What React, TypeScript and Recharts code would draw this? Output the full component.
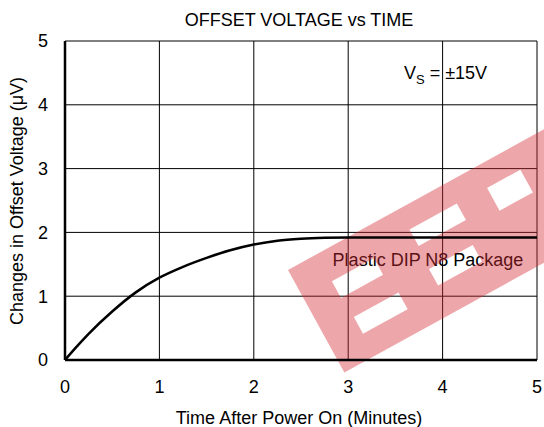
import React from "react";
import {
  LineChart,
  Line,
  XAxis,
  YAxis,
  CartesianGrid,
  Customized,
} from "recharts";

const timeMinutes = [0, 0.1, 0.25, 0.5, 0.75, 1.0, 1.25, 1.5, 1.75, 2.0, 2.25, 2.5, 2.75, 3.0, 3.5, 4.0, 4.5, 5.0];
const offsetChange = [0, 0.17, 0.41, 0.76, 1.06, 1.29, 1.46, 1.6, 1.72, 1.81, 1.87, 1.9, 1.915, 1.92, 1.92, 1.92, 1.92, 1.92];
const xTicks = [0, 1, 2, 3, 4, 5];
const yTicks = [0, 1, 2, 3, 4, 5];

const title = "OFFSET VOLTAGE vs TIME";
const xLabel = "Time After Power On (Minutes)";
const yLabel = "Changes in Offset Voltage (\u03bcV)";
const seriesLabel = "Plastic DIP N8 Package";

const data = timeMinutes.map((t, i) => ({ t, v: offsetChange[i] }));

const FONT = "'Liberation Sans', Arial, Helvetica, sans-serif";

const Annotations = () => (
  <g fontFamily={FONT} fill="#000">
    <text x={299} y={26} fontSize={18} textAnchor="middle">{title}</text>
    <text x={299} y={424} fontSize={18} textAnchor="middle">{xLabel}</text>
    <text
      x={0}
      y={0}
      fontSize={18}
      textAnchor="middle"
      transform="translate(23,201) rotate(-90)"
    >
      {yLabel}
    </text>
    <text x={404} y={79} fontSize={18}>
      V<tspan fontSize={13} dy={5}>S</tspan>
      <tspan dy={-5}> = ±15V</tspan>
    </text>
    <text x={428} y={266} fontSize={18} textAnchor="middle">{seriesLabel}</text>
  </g>
);

const Watermark = () => {
  const outer = "M0 0 H420 V117 H0 Z";
  const holes = [
    [33, 31, 48, 19],
    [35, 73, 51, 19],
    [126, 23, 54, 19],
    [124, 67, 50, 19],
    [214, 24, 38, 26],
  ]
    .map(([x, y, w, h]) => `M${x} ${y} h${w} v${h} h${-w} Z`)
    .join(" ");
  return (
    <g transform="translate(288,270) rotate(-28.8)" style={{ pointerEvents: "none" }}>
      <path d={`${outer} ${holes}`} fill="#d42a35" fillOpacity={0.42} fillRule="evenodd" />
    </g>
  );
};

export default function App() {
  return (
    <div style={{ position: "absolute", left: 0, top: 0, width: 544, height: 427, background: "#fff" }}>
      <LineChart
        width={544}
        height={427}
        data={data}
        margin={{ top: 41, right: 7, bottom: 0, left: 0 }}
      >
        <CartesianGrid stroke="#000" strokeWidth={1} />
        <XAxis
          dataKey="t"
          type="number"
          domain={[0, 5]}
          ticks={xTicks}
          height={67}
          tickLine={false}
          tickMargin={14}
          axisLine={{ stroke: "#000", strokeWidth: 2.5 }}
          tick={{ fill: "#000", fontSize: 18, fontFamily: FONT }}
        />
        <XAxis
          xAxisId="top"
          orientation="top"
          dataKey="t"
          type="number"
          domain={[0, 5]}
          ticks={xTicks}
          height={0}
          tick={false}
          tickLine={false}
          axisLine={{ stroke: "#000", strokeWidth: 2.5 }}
        />
        <YAxis
          type="number"
          domain={[0, 5]}
          ticks={yTicks}
          width={65}
          tickLine={false}
          tickMargin={11}
          axisLine={{ stroke: "#000", strokeWidth: 2.5 }}
          tick={{ fill: "#000", fontSize: 18, fontFamily: FONT }}
        />
        <YAxis
          yAxisId="right"
          orientation="right"
          type="number"
          domain={[0, 5]}
          ticks={yTicks}
          width={0}
          tick={false}
          tickLine={false}
          axisLine={{ stroke: "#000", strokeWidth: 2.5 }}
        />
        <Line
          type="monotone"
          dataKey="v"
          stroke="#000"
          strokeWidth={2.5}
          dot={false}
          isAnimationActive={false}
        />
        <Customized component={<Annotations />} />
        <Customized component={<Watermark />} />
      </LineChart>
    </div>
  );
}
